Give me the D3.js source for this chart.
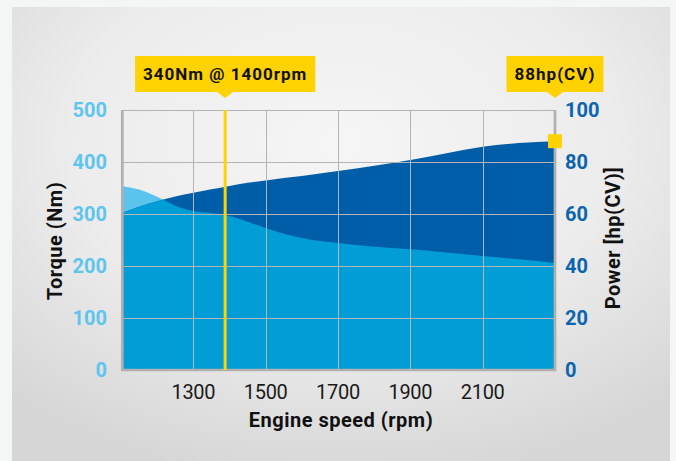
<!DOCTYPE html>
<html>
<head>
<meta charset="utf-8">
<script src="https://cdn.jsdelivr.net/npm/d3@7"></script>
<style>
  html, body { margin: 0; padding: 0; background: #f4f5f5; }
  #chart { width: 676px; height: 461px; }
  text { font-family: Roboto, 'Noto Sans', sans-serif; }
  .grid line { stroke: #b4b4b4; stroke-width: 1; shape-rendering: crispEdges; }
  .frame { stroke: #b0b0b0; fill: none; }
  .tick-left { fill: #5ec5ee; font-weight: 700; font-size: 20px; }
  .tick-right { fill: #0b64ae; font-weight: 700; font-size: 20px; }
  .tick-x { fill: #1a1a1a; font-size: 20px; letter-spacing: -0.3px; }
  .axis-title { fill: #111; font-weight: 700; font-size: 20px; letter-spacing: 0.5px; }
  .callout text { fill: #111; font-weight: 700; font-size: 17px; letter-spacing: 1px; }
</style>
</head>
<body>
<div id="chart"></div>
<script>
// engine speed samples (rpm) and the two curves
const rpm = [1100, 1150, 1200, 1250, 1300, 1350, 1400, 1450, 1500, 1550, 1600, 1700, 1800, 1900, 2000, 2100, 2200, 2300];
const torqueNm = [354, 347, 333, 316, 306, 302, 296, 285, 273, 262, 254, 244, 237, 232, 226, 219, 213, 206];
const powerHp = [60.3, 62.8, 64.9, 66.7, 68.2, 69.5, 70.8, 72.0, 72.9, 73.8, 74.6, 76.5, 78.6, 80.8, 83.4, 85.9, 87.3, 88];

const rpmTicks = [1300, 1500, 1700, 1900, 2100];
const torqueTicks = [0, 100, 200, 300, 400, 500];
const powerTicks = [0, 20, 40, 60, 80, 100];

// callouts
const peakTorqueLabel = '340Nm @ 1400rpm';
const peakTorqueRpm = 1388;
const maxPowerLabel = '88hp(CV)';
const maxPowerRpm = 2300;
const maxPowerValue = 88;

class TorquePowerChart {
  selection(selector) {
    if (!selector) return this._selection;
    this._selection = d3.select(selector);
    return this;
  }

  defaultProps = {
    width: 676,
    height: 461,
    plot: { left: 121, right: 555, top: 110, bottom: 370 },
    colors: {
      torqueOnly: '#5bc4ec',
      overlap: '#009dd6',
      powerOnly: '#005ea8',
      yellow: '#ffd200',
    },
  };

  setScales() {
    const { plot } = this.defaultProps;
    this.x = d3.scaleLinear().domain([1100, 2300]).range([plot.left, plot.right]);
    this.yT = d3.scaleLinear().domain([0, 500]).range([plot.bottom, plot.top]);
    this.yP = d3.scaleLinear().domain([0, 100]).range([plot.bottom, plot.top]);
    this.rows = rpm.map((r, i) => ({ rpm: r, t: torqueNm[i], p: powerHp[i] }));
  }

  drawBase() {
    const { width, height } = this.defaultProps;
    this.svg = this.selection().append('svg')
      .attr('width', width)
      .attr('height', height);

    const defs = this.svg.append('defs');
    const grad = defs.append('radialGradient')
      .attr('id', 'panel-bg')
      .attr('cx', '50%').attr('cy', '30%').attr('r', '75%');
    grad.append('stop').attr('offset', '0%').attr('stop-color', '#f5f5f5');
    grad.append('stop').attr('offset', '55%').attr('stop-color', '#ececec');
    grad.append('stop').attr('offset', '100%').attr('stop-color', '#d6d6d6');

    this.svg.append('rect')
      .attr('x', 12).attr('y', 7)
      .attr('width', 658).attr('height', height - 7)
      .attr('fill', 'url(#panel-bg)');
  }

  drawAreas() {
    const { plot, colors } = this.defaultProps;
    const base = plot.bottom;

    const torqueArea = d3.area()
      .curve(d3.curveMonotoneX)
      .x((d) => this.x(d.rpm)).y0(base).y1((d) => this.yT(d.t));
    const powerArea = d3.area()
      .curve(d3.curveMonotoneX)
      .x((d) => this.x(d.rpm)).y0(base).y1((d) => this.yP(d.p));

    this.svg.select('defs').append('clipPath')
      .attr('id', 'power-clip')
      .append('path')
      .attr('d', powerArea(this.rows));

    const g = this.svg.append('g').attr('class', 'areas');
    g.append('path').attr('d', torqueArea(this.rows)).attr('fill', colors.torqueOnly);
    g.append('path').attr('d', powerArea(this.rows)).attr('fill', colors.powerOnly);
    // overlap of both curves
    g.append('path')
      .attr('d', torqueArea(this.rows))
      .attr('fill', colors.overlap)
      .attr('clip-path', 'url(#power-clip)');
  }

  drawGrid() {
    const { plot } = this.defaultProps;
    const grid = this.svg.append('g').attr('class', 'grid');

    grid.selectAll('.h')
      .data(torqueTicks.filter((d) => d > 0))
      .join('line')
      .attr('class', 'h')
      .attr('x1', plot.left).attr('x2', plot.right)
      .attr('y1', (d) => Math.round(this.yT(d)) + 0.5)
      .attr('y2', (d) => Math.round(this.yT(d)) + 0.5);

    grid.selectAll('.v')
      .data(rpmTicks)
      .join('line')
      .attr('class', 'v')
      .attr('x1', (d) => Math.round(this.x(d)) + 0.5)
      .attr('x2', (d) => Math.round(this.x(d)) + 0.5)
      .attr('y1', plot.top).attr('y2', plot.bottom);

    // frame: heavier left, bottom and right edges
    this.svg.append('path')
      .attr('class', 'frame')
      .attr('stroke-width', 2.7)
      .attr('d', `M${plot.left + 1.3},${plot.top}V${plot.bottom}H${plot.right}V${plot.top}`);
  }

  drawAxes() {
    const { plot } = this.defaultProps;

    this.svg.append('g').selectAll('text')
      .data(torqueTicks)
      .join('text')
      .attr('class', 'tick-left')
      .attr('text-anchor', 'end')
      .attr('x', 107)
      .attr('y', (d) => this.yT(d) + 7)
      .text((d) => d);

    this.svg.append('g').selectAll('text')
      .data(powerTicks)
      .join('text')
      .attr('class', 'tick-right')
      .attr('x', 565)
      .attr('y', (d) => this.yP(d) + 7)
      .text((d) => d);

    this.svg.append('g').selectAll('text')
      .data(rpmTicks)
      .join('text')
      .attr('class', 'tick-x')
      .attr('text-anchor', 'middle')
      .attr('x', (d) => this.x(d))
      .attr('y', 398.5)
      .text((d) => d);

    this.svg.append('text')
      .attr('class', 'axis-title')
      .attr('text-anchor', 'middle')
      .attr('x', (plot.left + plot.right) / 2 + 3)
      .attr('y', 427)
      .text('Engine speed (rpm)');

    this.svg.append('text')
      .attr('class', 'axis-title')
      .attr('text-anchor', 'middle')
      .attr('transform', 'translate(62,241) rotate(-90)')
      .text('Torque (Nm)');

    this.svg.append('text')
      .attr('class', 'axis-title')
      .attr('text-anchor', 'middle')
      .attr('transform', 'translate(620,238) rotate(-90)')
      .text('Power [hp(CV)]');
  }

  callout(cx, label) {
    const g = this.svg.append('g').attr('class', 'callout');
    const top = 56, bottom = 92, tip = 98;
    const text = g.append('text')
      .attr('x', cx).attr('y', 80)
      .attr('text-anchor', 'middle')
      .text(label);
    const w = text.node().getComputedTextLength() + 16;
    g.insert('path', 'text')
      .attr('fill', this.defaultProps.colors.yellow)
      .attr('d', `M${cx - w / 2},${top}H${cx + w / 2}V${bottom}H${cx + 8}L${cx},${tip}L${cx - 8},${bottom}H${cx - w / 2}Z`);
  }

  drawMarkers() {
    const { plot, colors } = this.defaultProps;
    const xPeak = this.x(peakTorqueRpm);

    this.svg.append('line')
      .attr('x1', xPeak).attr('x2', xPeak)
      .attr('y1', plot.top).attr('y2', plot.bottom)
      .attr('stroke', colors.yellow)
      .attr('stroke-width', 3);

    const s = 14;
    this.svg.append('rect')
      .attr('x', this.x(maxPowerRpm) - s / 2)
      .attr('y', this.yP(maxPowerValue) - s / 2)
      .attr('width', s).attr('height', s)
      .attr('fill', colors.yellow);

    this.callout(xPeak, peakTorqueLabel);
    this.callout(this.x(maxPowerRpm), maxPowerLabel);
  }

  draw() {
    this.setScales();
    this.drawBase();
    this.drawAreas();
    this.drawGrid();
    this.drawAxes();
    this.drawMarkers();
    return this;
  }
}

new TorquePowerChart().selection('#chart').draw();
</script>
</body>
</html>
